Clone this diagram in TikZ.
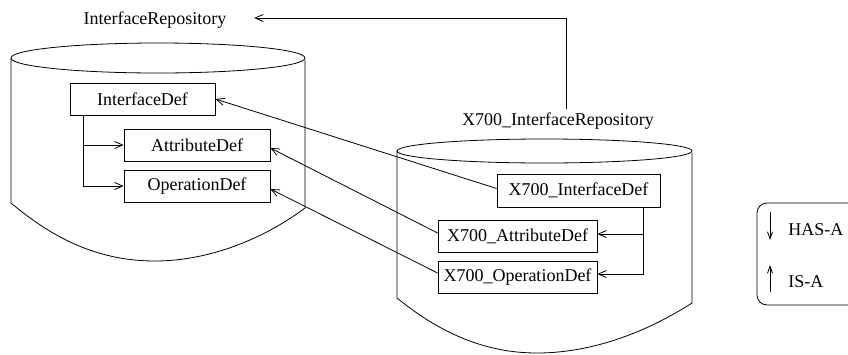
\documentclass[tikz,border=0pt]{standalone}
\usepackage{fontspec}
\setmainfont{Liberation Serif}
\usetikzlibrary{arrows.meta}
\begin{document}
\begin{tikzpicture}[x=1pt,y=-1pt,
  line width=0.8pt,
  every node/.style={font=\fontsize{18}{20}\selectfont},
  defbox/.style={draw,rectangle,inner sep=0pt,minimum height=32pt},
  arr/.style={-{Straight Barb[length=8pt,width=7pt,line width=0.8pt]}},
  smallarr/.style={-{Straight Barb[length=7pt,width=5pt,line width=0.8pt]}}]
\useasboundingbox (0,0) rectangle (848,354);

% repository cylinders
\draw (158,58) ellipse [x radius=147, y radius=15];
\draw (11,58) -- (11,203)
      .. controls (55,240) and (100,261) .. (155,261)
      .. controls (210,261) and (265,238) .. (305,208) -- (305,60);
\draw (544.5,151) ellipse [x radius=147.5, y radius=12];
\draw (397,151) -- (397,298)
      .. controls (440,333) and (485,353) .. (537,353)
      .. controls (595,353) and (650,330) .. (692,303) -- (692,153);

% repository names
\node (ir)  at (155,20)  {InterfaceRepository};
\node (xir) at (558,121) {X700\_InterfaceRepository};
\draw[arr] ([xshift=8pt]xir.north) |- ([xshift=24pt,yshift=2pt]ir.east);

% definitions
\node[defbox,minimum width=145pt] (ifd)  at (142.5,99) {InterfaceDef};
\node[defbox,minimum width=146pt] (attr) at (197,145)  {AttributeDef};
\node[defbox,minimum width=146pt] (op)   at (197,186)  {OperationDef};
\node[defbox,minimum width=163pt,minimum height=33pt] (xifd) at (578.5,190.5) {X700\_InterfaceDef};
\node[defbox,minimum width=159pt] (xattr) at (517.5,236) {X700\_AttributeDef};
\node[defbox,minimum width=159pt] (xop)   at (517.5,277) {X700\_OperationDef};

% HAS-A inside the repositories
\draw[arr] ([xshift=-59.5pt]ifd.south) |- (attr.west);
\draw[arr] ([xshift=-59.5pt]ifd.south) |- (op.west);
\draw[arr] ([xshift=64.5pt]xifd.south) |- ([yshift=2pt]xattr.east);
\draw[arr] ([xshift=64.5pt]xifd.south) |- ([yshift=3pt]xop.east);

% IS-A between the repositories
\draw[arr] ([yshift=2pt]xifd.west) -- (ifd.east);
\draw[arr] ([yshift=3pt]xattr.west) -- ([yshift=-3pt]attr.east);
\draw[arr] ([yshift=4pt]xop.west) -- ([yshift=-3pt]op.east);

% legend
\draw[rounded corners=10pt] (757,203) rectangle (875,305);
\coordinate (hasTop) at (770,212);
\coordinate (hasBot) at (770,240);
\coordinate (isBot) at (770,292);
\coordinate (isTop) at (770,265);
\draw[smallarr] (hasTop) -- (hasBot);
\draw[smallarr] (isBot) -- (isTop);
\node[anchor=west,inner sep=0pt] (lhas) at (788,230) {HAS-A};
\node[anchor=west,inner sep=0pt] (lis)  at (788,282) {IS-A};
\end{tikzpicture}
\end{document}
